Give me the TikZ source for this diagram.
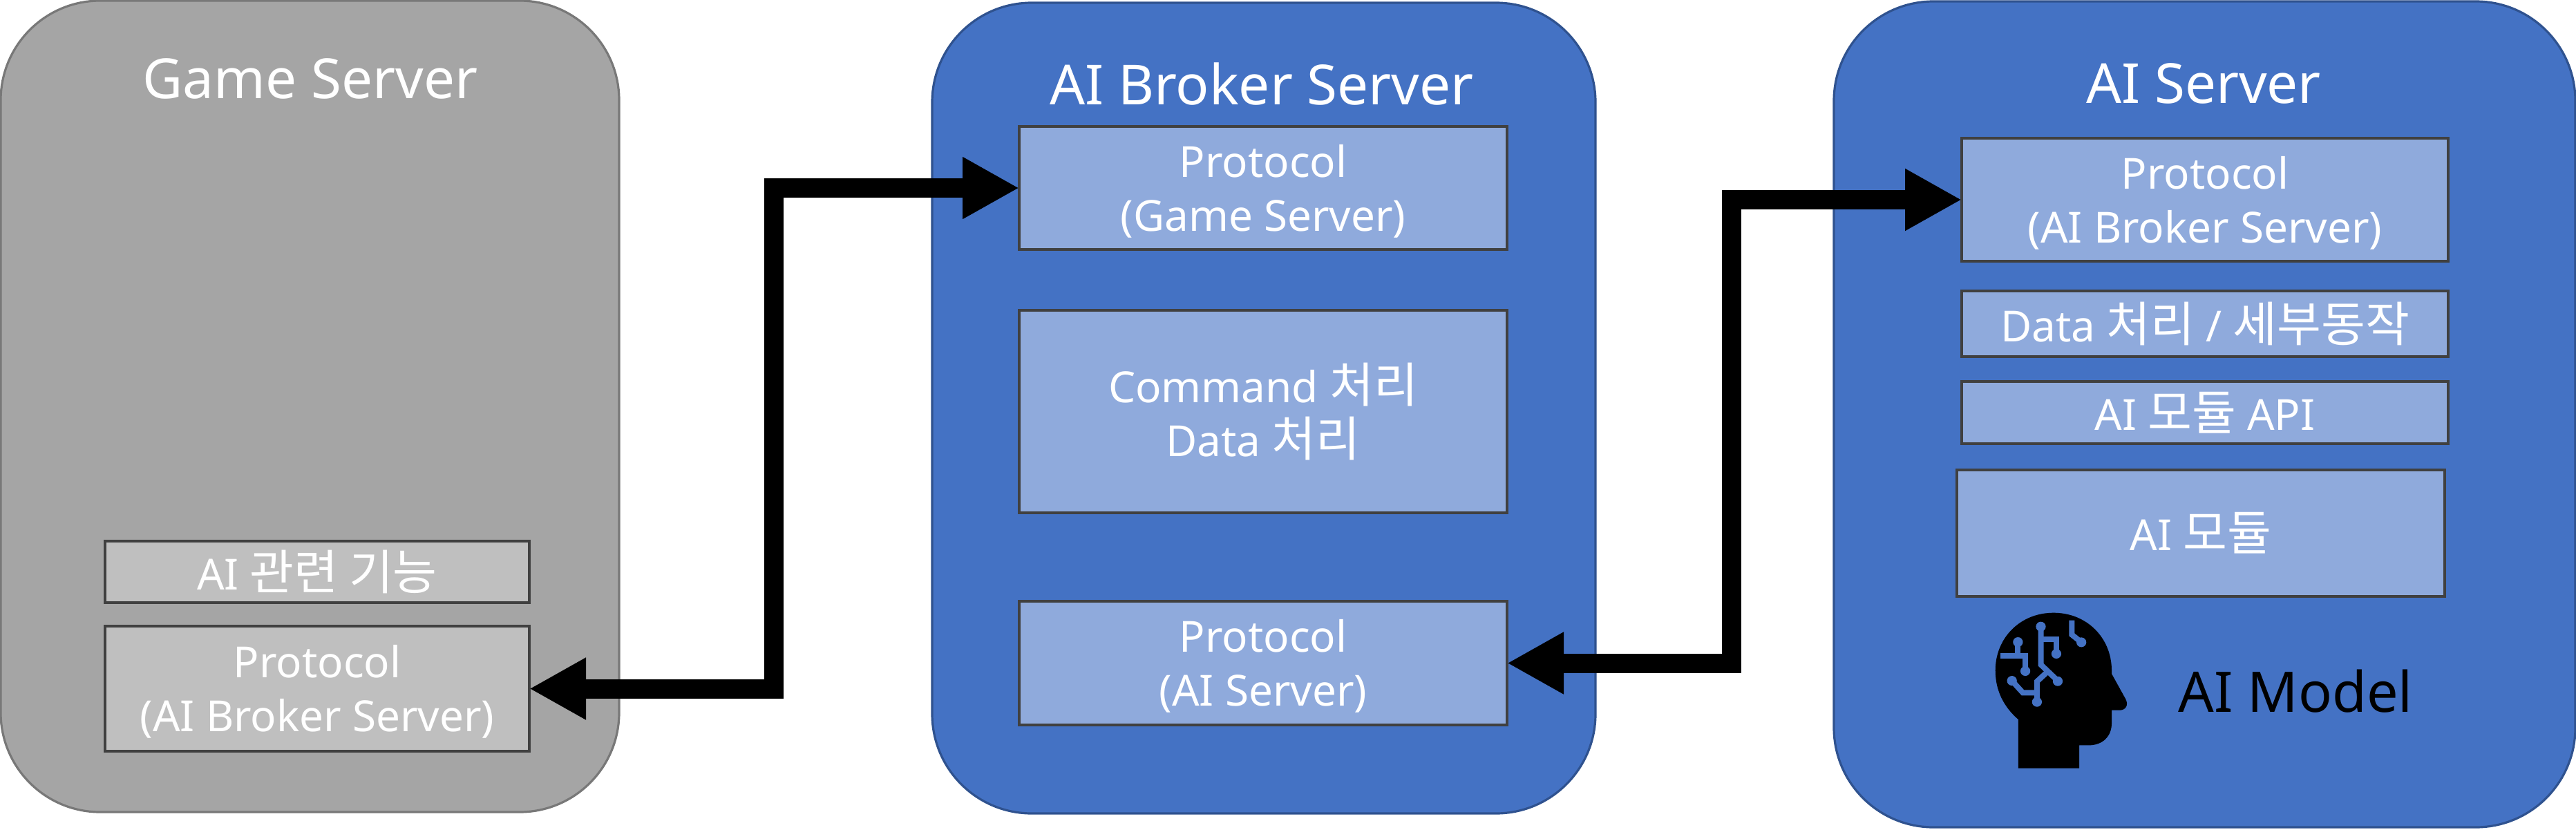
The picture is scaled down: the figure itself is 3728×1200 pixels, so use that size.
\documentclass[tikz,border=0pt]{standalone}
\usepackage{fontspec}
\setmainfont{Noto Sans}
\newfontfamily\kr[Scale=1.12]{Noto Sans CJK KR}
\usetikzlibrary{arrows.meta}
\definecolor{aiblue}{HTML}{4472C4}
\definecolor{aiedge}{HTML}{2F528F}
\definecolor{lightblue}{HTML}{8FAADC}
\definecolor{boxedge}{HTML}{404040}
\definecolor{gameg}{HTML}{A5A5A5}
\definecolor{gameedge}{HTML}{787878}
\definecolor{lightg}{HTML}{BFBFBF}
\tikzset{
  panel/.style={rectangle,rounded corners=72pt,line width=1.6pt,outer sep=0pt,inner sep=0pt},
  bluepanel/.style={panel,fill=aiblue,draw=aiedge},
  graypanel/.style={panel,fill=gameg,draw=gameedge},
  box/.style={rectangle,line width=2.2pt,draw=boxedge,outer sep=0pt,inner sep=0pt,align=center,text=white,
    font=\fontsize{31}{39}\selectfont},
  bluebox/.style={box,fill=lightblue},
  graybox/.style={box,fill=lightg},
  titletext/.style={text=white,font=\fontsize{40}{48}\selectfont,inner sep=0pt},
  modeltext/.style={text=black,font=\fontsize{40.5}{48}\selectfont,inner sep=0pt},
  link/.style={line width=14pt,draw=black,{Triangle[length=41pt,width=42pt]}-{Triangle[length=41pt,width=42pt]}},
  circuit/.style={line width=4pt,draw=aiblue}
}
\newcommand{\drop}{\rule{0pt}{28pt}}
\newcommand{\bx}[6]{% style,name,x0,y0,x1,y1
  \node[#1,minimum width=#5*0.5pt-#3*0.5pt,minimum height=#6*0.5pt-#4*0.5pt] (#2) at ({(#3+#5)/2},{(#4+#6)/2})}
\begin{document}
\begin{tikzpicture}[x=0.5pt,y=-0.5pt]
\useasboundingbox (0,0) rectangle (3728,1200);
% panels
\bx{graypanel}{game}{1}{1}{896}{1175} {};
\bx{bluepanel}{broker}{1349}{4}{2309}{1177} {};
\bx{bluepanel}{aisrv}{2654}{2}{3727}{1197} {};
% titles
\node[titletext] (gt) at (449,114) {Game Server};
\node[titletext] (bt) at (1826,121) {AI Broker Server};
\node[titletext] (st) at (3189,121) {AI Server};
% game boxes
\bx{graybox}{gfn}{152}{783}{766}{872} {AI {\kr 관련 기능}};
\bx{graybox}{gp}{152}{906}{766}{1087} {\drop Protocol\\(AI Broker Server)};
% broker boxes
\bx{bluebox}{bp}{1475}{183}{2181}{361} {\drop Protocol\\(Game Server)};
\bx{bluebox}{bc}{1475}{449}{2181}{742} {Command {\kr 처리}\\Data {\kr 처리}};
\bx{bluebox}{ba}{1475}{870}{2181}{1049} {\drop Protocol\\(AI Server)};
% AI boxes
\bx{bluebox}{sp}{2839}{200}{3543}{378} {\drop Protocol\\(AI Broker Server)};
\bx{bluebox}{sd}{2839}{421}{3543}{516} {Data {\kr 처리} / {\kr 세부동작}};
\bx{bluebox}{sa}{2839}{552}{3543}{642} {AI {\kr 모듈} API};
\bx{bluebox}{sm}{2832}{680}{3538}{863} {AI {\kr 모듈}};
\node[modeltext] (mt) at (3322,1000) {AI Model};
% connectors
\coordinate (m1) at (1119.5,0);
\coordinate (m2) at (2506,0);
\draw[link] (gp.east) -- (gp.east -| m1) -- (bp.west -| m1) -- (bp.west);
\draw[link] (ba.east) -- (ba.east -| m2) -- (sp.west -| m2) -- (sp.west);
% head icon
\begin{scope}[shift={(2750,850)},x=0.255pt,y=-0.1667pt]
\fill[black] (335,573) .. controls (295,520) and (270,450) .. (270,360)
  .. controls (270,220) and (340,110) .. (435,110)
  .. controls (530,110) and (600,220) .. (600,360)
  -- (600,375) -- (638,480) .. controls (650,510) and (640,533) .. (622,533)
  -- (600,533) -- (600,590) .. controls (600,645) and (575,685) .. (535,685)
  -- (508,685) -- (508,785) -- (335,785) -- cycle;
\draw[circuit] (399,170) -- (399,335) -- (447,405);
\draw[circuit] (415,370) -- (388,408) -- (388,497);
\draw[circuit] (399,224) -- (443,224) -- (443,288);
\draw[circuit] (334,237) -- (334,298);
\draw[circuit] (285,298) -- (355,298) -- (355,363);
\draw[circuit] (317,405) -- (348,457) -- (388,457);
\draw[circuit] (487,143) -- (487,205) -- (514,238);
\fill[aiblue] (399,170) circle [x radius=14,y radius=21]
  (447,407) circle [x radius=14,y radius=21]
  (388,497) circle [x radius=14,y radius=21]
  (443,288) circle [x radius=14,y radius=21]
  (334,237) circle [x radius=14,y radius=21]
  (355,363) circle [x radius=14,y radius=21]
  (317,405) circle [x radius=14,y radius=21]
  (514,238) circle [x radius=14,y radius=21];
\end{scope}
\end{tikzpicture}
\end{document}
